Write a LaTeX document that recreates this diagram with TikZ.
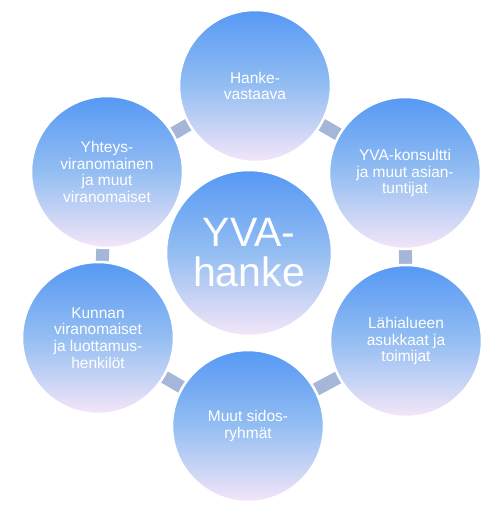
\documentclass[tikz,border=0pt]{standalone}
\usepackage{fontspec}
\setmainfont{Liberation Sans}
\usetikzlibrary{backgrounds}
\definecolor{topblue}{RGB}{86,152,244}
\definecolor{midblue}{RGB}{148,190,242}
\definecolor{botpink}{RGB}{244,230,248}
\definecolor{linkcol}{RGB}{166,182,217}
\begin{document}
\begin{tikzpicture}[x=1pt,y=-1pt,
  bubble/.style={circle, inner sep=0pt, draw=white, line width=2.5pt,
    top color=topblue, bottom color=botpink, middle color=midblue,
    text=white, align=center},
  outer/.style={bubble, minimum size=152pt, font=\fontsize{15.5}{16.7}\selectfont},
  hub/.style={bubble, minimum size=166pt, font=\fontsize{41}{40}\selectfont},
  link/.style={draw=linkcol, line width=13pt, shorten <=-6pt, shorten >=-6pt}]
\useasboundingbox (0,0) rectangle (503,514);
\node[hub] (c) at (249,253) {YVA-\\hanke};
\node[outer] (t) at (255,86) {Hanke-\\vastaava};
\node[outer] (ur) at (405,173) {YVA-konsultti\\ja muut asian-\\tuntijat};
\node[outer] (lr) at (406,341) {Lähialueen\\asukkaat ja\\toimijat};
\node[outer] (b) at (248,426) {Muut sidos-\\ryhmät};
\node[outer] (ll) at (98,338) {Kunnan\\viranomaiset\\ja luottamus-\\henkilöt};
\node[outer] (ul) at (107,172) {Yhteys-\\viranomainen\\ja muut\\viranomaiset};
\begin{pgfonlayer}{background}
\draw[link] (t) -- (ur);
\draw[link] (ur) -- (lr);
\draw[link] (lr) -- (b);
\draw[link] (b) -- (ll);
\draw[link] (ll) -- (ul);
\draw[link] (ul) -- (t);
\end{pgfonlayer}
\end{tikzpicture}
\end{document}
